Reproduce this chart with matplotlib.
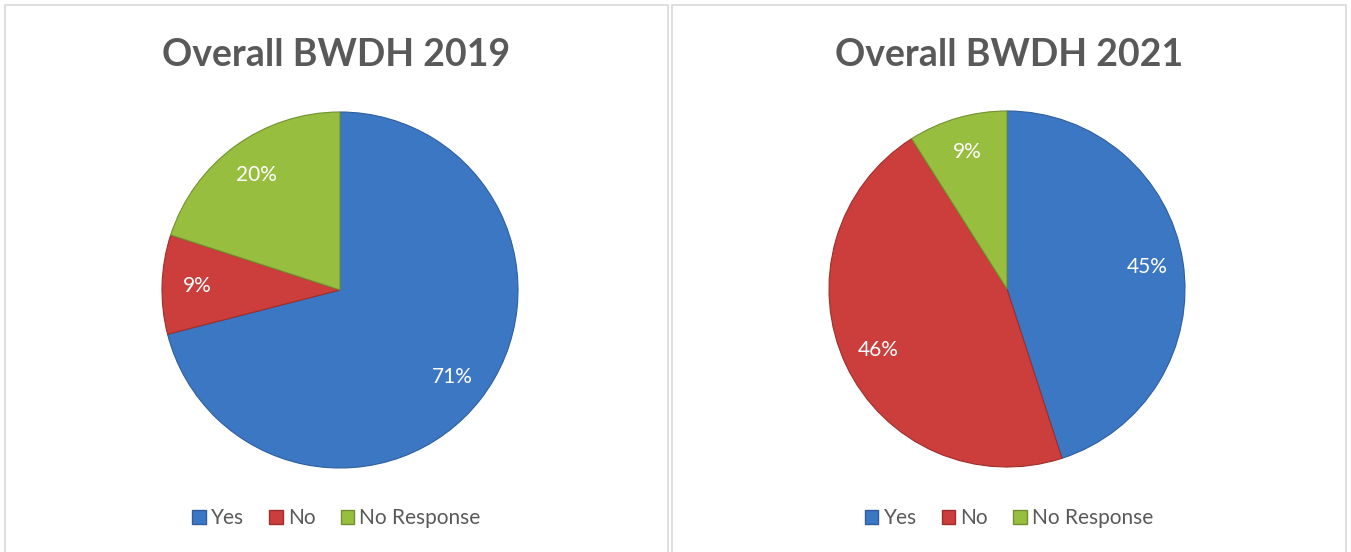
import matplotlib
matplotlib.use("Agg")
import matplotlib.pyplot as plt
from matplotlib.patches import Rectangle, Patch

categories = ["Yes", "No", "No Response"]
values_2019 = [71, 9, 20]
values_2021 = [45, 46, 9]
titles = ["Overall BWDH 2019", "Overall BWDH 2021"]

colors = ["#3C77C4", "#CB3E3B", "#98BE3F"]
edges = ["#2E5E9E", "#9E2E2C", "#72912E"]

W, H = 1351, 552
fig = plt.figure(figsize=(W / 100, H / 100), dpi=100)
plt.rcParams['font.family'] = ['Lato', 'DejaVu Sans']

# panel borders
panels = [(5, 5, 663, 560), (672, 5, 674, 560)]
for (x0, y0, w, h) in panels:
    fig.patches.append(Rectangle((x0 / W, 1 - (y0 + h) / H), w / W, h / H,
                                 transform=fig.transFigure, fill=False,
                                 edgecolor="#D9D9D9", linewidth=1.2))

centers = [(340, 290), (1007, 289)]
R = 178
for data, title, (cx, cy), (px, py, pw, ph) in zip([values_2019, values_2021], titles, centers, panels):
    ax = fig.add_axes([(cx - R) / W, (H - cy - R) / H, 2 * R / W, 2 * R / H])
    wedges, texts, autotexts = ax.pie(
        data, colors=colors, startangle=90, counterclock=False,
        autopct=lambda p: f"{p:.0f}%", pctdistance=0.8,
        wedgeprops=dict(linewidth=0.8),
        textprops=dict(color="white", fontsize=15))
    for w, ec in zip(wedges, edges):
        w.set_edgecolor(ec)
    ax.set_xlim(-1.0, 1.0)
    ax.set_ylim(-1.0, 1.0)
    ax.set_aspect("equal")
    ax.axis("off")
    fig.text((px + pw / 2) / W, 1 - 55 / H, title, ha="center", va="center",
             fontsize=27, fontweight="bold", color="#595959")
    handles = [Patch(facecolor=c, edgecolor=e) for c, e in zip(colors, edges)]
    fig.legend(handles, categories, loc="center",
               bbox_to_anchor=((px + pw / 2) / W, 1 - 518 / H),
               ncol=3, frameon=False, fontsize=15, labelcolor="#595959",
               handlelength=0.65, handleheight=0.65, handletextpad=0.25,
               columnspacing=1.2)

fig.savefig("out.png", dpi=100, facecolor="white")
